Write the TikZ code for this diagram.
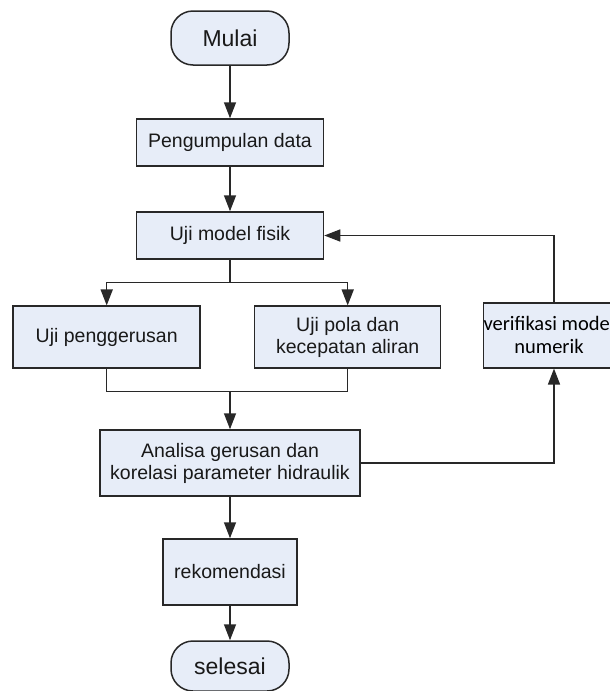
\documentclass[tikz,border=0pt]{standalone}
\usepackage{fontspec}
\setmainfont{Liberation Sans}
\newfontfamily\calfont{Carlito}
\usetikzlibrary{arrows.meta}
\definecolor{boxfill}{RGB}{231,237,248}
\definecolor{linec}{RGB}{40,40,40}
\definecolor{txtc}{RGB}{25,25,25}
\tikzset{
  box/.style={draw=linec, fill=boxfill, line width=1.5pt, inner sep=0pt, align=center,
    text=txtc, font=\fontsize{19.5}{22}\selectfont},
  term/.style={box, rounded corners=22pt, font=\fontsize{23}{26}\selectfont},
  conn/.style={draw=linec, line width=1.5pt},
  arr/.style={conn, -{Triangle[length=16pt, width=12pt]}},
}
\begin{document}
\begin{tikzpicture}[x=1pt, y=-1pt]
\useasboundingbox (0,0) rectangle (610,691);
\clip (0,0) rectangle (610,691);
\node[term, minimum width=118pt, minimum height=54pt] (mulai) at (230,38) {Mulai};
\node[box, minimum width=187pt, minimum height=47pt] (peng) at (230,142.5) {Pengumpulan data};
\node[box, minimum width=187pt, minimum height=47pt] (uji) at (230,235.5) {Uji model fisik};
\node[box, minimum width=187pt, minimum height=62pt] (pen) at (106.7,337.2) {Uji penggerusan};
\node[box, minimum width=186pt, minimum height=62pt] (pola) at (347.7,337.2) {Uji pola dan\\kecepatan aliran};
\node[box, minimum width=124pt, minimum height=65pt, font=\calfont\fontsize{20.5}{23}\selectfont, text=black] (verif) at (549,335.3) {verifikasi model\\numerik};
\node[box, minimum width=260pt, minimum height=66pt] (ana) at (230,463) {Analisa gerusan dan\\korelasi parameter hidraulik};
\node[box, minimum width=134pt, minimum height=66pt] (rek) at (230,572) {rekomendasi};
\node[term, minimum width=118pt, minimum height=50pt] (sel) at (230,666) {selesai};
\coordinate (br) at (230,282.3);
\coordinate (mg) at (230,391.7);
\draw[arr] (mulai) -- (peng);
\draw[arr] (peng) -- (uji);
\draw[conn] (uji.south) -- (br);
\draw[arr] (br) -| (pen.north);
\draw[arr] (br) -| (pola.north);
\draw[conn] (pen.south) |- (mg);
\draw[conn] (pola.south) |- (mg);
\draw[arr] (mg) -- (ana.north);
\draw[arr] (ana.east) -| ([xshift=5pt]verif.south);
\draw[arr] ([xshift=5pt]verif.north) |- (uji.east);
\draw[arr] (ana) -- (rek);
\draw[arr] (rek) -- (sel);
\end{tikzpicture}
\end{document}
